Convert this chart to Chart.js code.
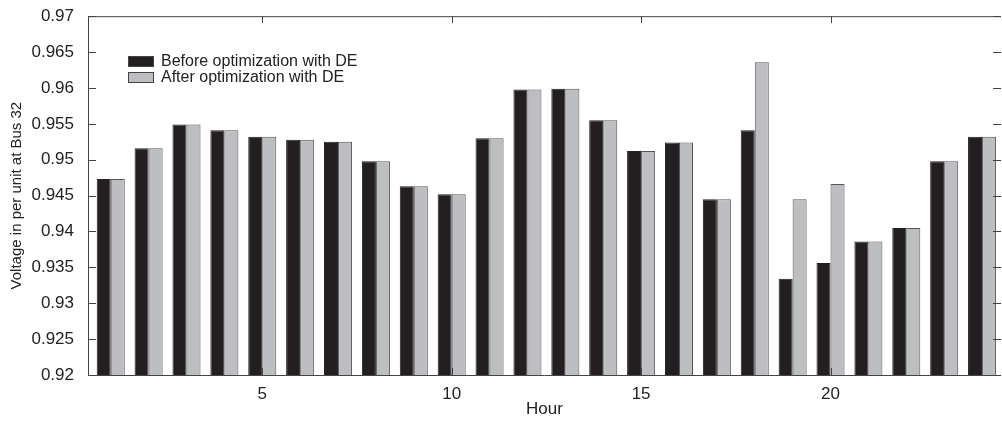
<!DOCTYPE html>
<html>
<head>
<meta charset="utf-8">
<script src="https://cdn.jsdelivr.net/npm/chart.js@4.4.1/dist/chart.umd.min.js"></script>
<style>
  html, body { margin: 0; padding: 0; background: #fff; overflow: hidden; }
  #wrap { position: relative; width: 1002px; height: 423px; }
  #legend {
    position: absolute; left: 128px; top: 53px;
    font-family: 'Liberation Sans', Arial, sans-serif; font-size: 16px; color: #222;
  }
  .item { display: flex; align-items: center; height: 16px; }
  .box { width: 24px; height: 9px; border: 1px solid #444; margin-right: 7px; }
</style>
</head>
<body>
<div id="wrap">
  <canvas id="voltageChart" width="1002" height="423"></canvas>
  <div id="legend"></div>
</div>
<script>
const hours = [1, 2, 3, 4, 5, 6, 7, 8, 9, 10, 11, 12, 13, 14, 15, 16, 17, 18, 19, 20, 21, 22, 23, 24];
const beforeDE = [0.9473, 0.9516, 0.9549, 0.9541, 0.9532, 0.9528, 0.9525, 0.9498, 0.9463, 0.9452, 0.9530, 0.9598,
                  0.9599, 0.9555, 0.9512, 0.9524, 0.9445, 0.9541, 0.9334, 0.9356, 0.9386, 0.9405, 0.9498, 0.9532];
const afterDE = [0.9473, 0.9516, 0.9549, 0.9541, 0.9532, 0.9528, 0.9525, 0.9498, 0.9463, 0.9452, 0.9530, 0.9598,
                 0.9599, 0.9555, 0.9512, 0.9524, 0.9445, 0.9636, 0.9445, 0.9466, 0.9386, 0.9405, 0.9498, 0.9532];
const xTicks = [5, 10, 15, 20];
const seriesNames = ['Before optimization with DE', 'After optimization with DE'];

const font = "'Liberation Sans', Arial, sans-serif";
const axisColor = '#444';

// MATLAB style box: ticks pointing inward on all four sides
const insideTicks = {
  id: 'insideTicks',
  afterDatasetsDraw(chart) {
    const { ctx, chartArea: a, scales } = chart;
    ctx.save();
    ctx.strokeStyle = axisColor;
    ctx.lineWidth = 1;
    ctx.beginPath();
    ctx.moveTo(a.left + 0.5, a.bottom + 0.5);
    ctx.lineTo(a.left + 0.5, a.top + 0.5);
    ctx.lineTo(a.right, a.top + 0.5);
    ctx.moveTo(a.left, a.bottom + 0.5);
    ctx.lineTo(a.right, a.bottom + 0.5);
    scales.y.ticks.forEach(t => {
      const y = Math.round(scales.y.getPixelForValue(t.value)) + 0.5;
      ctx.moveTo(a.left, y); ctx.lineTo(a.left + 8, y);
      ctx.moveTo(a.right, y); ctx.lineTo(a.right - 8, y);
    });
    scales.x.ticks.forEach(t => {
      const x = Math.round(scales.x.getPixelForValue(t.value)) + 0.5;
      ctx.moveTo(x, a.bottom); ctx.lineTo(x, a.bottom - 7);
      ctx.moveTo(x, a.top); ctx.lineTo(x, a.top + 7);
    });
    ctx.stroke();
    ctx.restore();
  }
};

const ctx = document.getElementById('voltageChart').getContext('2d');
const chart = new Chart(ctx, {
  type: 'bar',
  data: {
    datasets: [{
      label: seriesNames[0],
      data: hours.map((h, i) => ({ x: h, y: beforeDE[i] })),
      backgroundColor: '#231f20',
      borderColor: '#231f20',
      borderWidth: 1,
      borderSkipped: 'bottom'
    }, {
      label: seriesNames[1],
      data: hours.map((h, i) => ({ x: h, y: afterDE[i] })),
      backgroundColor: '#bdbec2',
      borderColor: '#555',
      borderWidth: 1,
      borderSkipped: 'bottom'
    }]
  },
  options: {
    responsive: false,
    animation: false,
    layout: { padding: { top: 12, right: 1, left: 0, bottom: 0 } },
    datasets: { bar: { categoryPercentage: 0.74, barPercentage: 1.0 } },
    plugins: { legend: { display: false }, tooltip: { enabled: false } },
    scales: {
      x: {
        type: 'linear',
        min: 0.4,
        max: 24.5,
        offset: false,
        grid: { display: false },
        border: { display: false },
        afterBuildTicks: scale => { scale.ticks = xTicks.map(v => ({ value: v })); },
        afterFit: scale => { scale.height = 48; },
        ticks: { color: '#222', font: { family: font, size: 17 }, padding: 1 },
        title: { display: true, text: 'Hour', color: '#222', font: { family: font, size: 17 }, padding: { bottom: 3 } }
      },
      y: {
        min: 0.92,
        max: 0.97,
        grid: { display: false },
        border: { display: false },
        afterFit: scale => { scale.width = 88; },
        ticks: {
          stepSize: 0.005,
          color: '#222',
          padding: 6,
          font: { family: font, size: 17 },
          callback: v => String(parseFloat(v.toFixed(3)))
        },
        title: { display: true, text: 'Voltage in per unit at Bus 32', color: '#222', font: { family: font, size: 15 }, padding: { top: 8 } }
      }
    }
  },
  plugins: [insideTicks]
});

// legend drawn inside the plot, like the original figure
const legend = document.getElementById('legend');
chart.data.datasets.forEach(ds => {
  const item = document.createElement('div');
  item.className = 'item';
  item.innerHTML = `<span class="box" style="background:${ds.backgroundColor}"></span><span>${ds.label}</span>`;
  legend.appendChild(item);
});
</script>
</body>
</html>
